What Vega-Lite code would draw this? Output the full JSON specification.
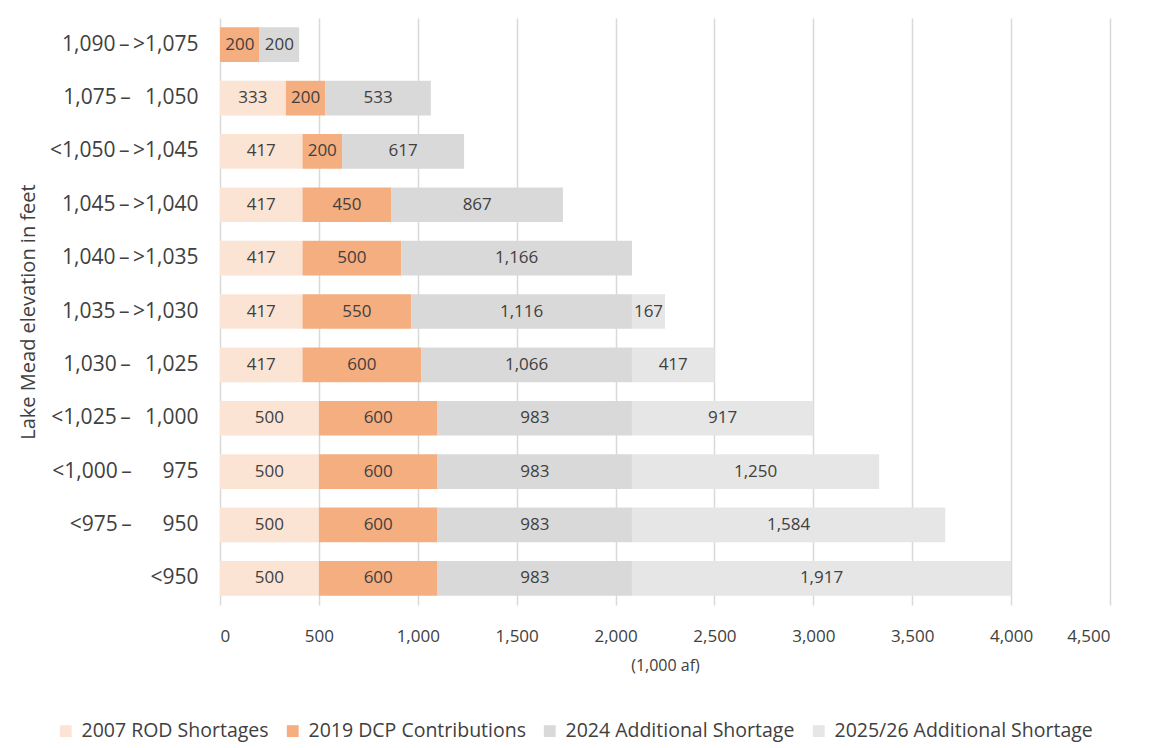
{
  "$schema": "https://vega.github.io/schema/vega-lite/v6.json",
  "width": 890,
  "height": 587,
  "autosize": {"type": "none"},
  "padding": {"left": 220, "top": 18, "right": 41, "bottom": 143},
  "background": "white",
  "config": {
    "font": "Open Sans",
    "view": {"stroke": null},
    "axis": {"labelColor": "#404040", "titleColor": "#404040", "titleFontWeight": "normal", "labelFont": "Open Sans", "titleFont": "Open Sans"},
    "legend": {"labelColor": "#404040", "labelFont": "Open Sans"}
  },
  "data": {
    "values": [
      {"elevation": "1,090\u2009–\u2009>1,075", "series": "2007 ROD Shortages", "value": 0},
      {"elevation": "1,090\u2009–\u2009>1,075", "series": "2019 DCP Contributions", "value": 200},
      {"elevation": "1,090\u2009–\u2009>1,075", "series": "2024 Additional Shortage", "value": 200},
      {"elevation": "1,075\u2009–\u2009\u00a0\u00a01,050", "series": "2007 ROD Shortages", "value": 333},
      {"elevation": "1,075\u2009–\u2009\u00a0\u00a01,050", "series": "2019 DCP Contributions", "value": 200},
      {"elevation": "1,075\u2009–\u2009\u00a0\u00a01,050", "series": "2024 Additional Shortage", "value": 533},
      {"elevation": "<1,050\u2009–\u2009>1,045", "series": "2007 ROD Shortages", "value": 417},
      {"elevation": "<1,050\u2009–\u2009>1,045", "series": "2019 DCP Contributions", "value": 200},
      {"elevation": "<1,050\u2009–\u2009>1,045", "series": "2024 Additional Shortage", "value": 617},
      {"elevation": "1,045\u2009–\u2009>1,040", "series": "2007 ROD Shortages", "value": 417},
      {"elevation": "1,045\u2009–\u2009>1,040", "series": "2019 DCP Contributions", "value": 450},
      {"elevation": "1,045\u2009–\u2009>1,040", "series": "2024 Additional Shortage", "value": 867},
      {"elevation": "1,040\u2009–\u2009>1,035", "series": "2007 ROD Shortages", "value": 417},
      {"elevation": "1,040\u2009–\u2009>1,035", "series": "2019 DCP Contributions", "value": 500},
      {"elevation": "1,040\u2009–\u2009>1,035", "series": "2024 Additional Shortage", "value": 1166},
      {"elevation": "1,035\u2009–\u2009>1,030", "series": "2007 ROD Shortages", "value": 417},
      {"elevation": "1,035\u2009–\u2009>1,030", "series": "2019 DCP Contributions", "value": 550},
      {"elevation": "1,035\u2009–\u2009>1,030", "series": "2024 Additional Shortage", "value": 1116},
      {"elevation": "1,035\u2009–\u2009>1,030", "series": "2025/26 Additional Shortage", "value": 167},
      {"elevation": "1,030\u2009–\u2009\u00a0\u00a01,025", "series": "2007 ROD Shortages", "value": 417},
      {"elevation": "1,030\u2009–\u2009\u00a0\u00a01,025", "series": "2019 DCP Contributions", "value": 600},
      {"elevation": "1,030\u2009–\u2009\u00a0\u00a01,025", "series": "2024 Additional Shortage", "value": 1066},
      {"elevation": "1,030\u2009–\u2009\u00a0\u00a01,025", "series": "2025/26 Additional Shortage", "value": 417},
      {"elevation": "<1,025\u2009–\u2009\u00a0\u00a01,000", "series": "2007 ROD Shortages", "value": 500},
      {"elevation": "<1,025\u2009–\u2009\u00a0\u00a01,000", "series": "2019 DCP Contributions", "value": 600},
      {"elevation": "<1,025\u2009–\u2009\u00a0\u00a01,000", "series": "2024 Additional Shortage", "value": 983},
      {"elevation": "<1,025\u2009–\u2009\u00a0\u00a01,000", "series": "2025/26 Additional Shortage", "value": 917},
      {"elevation": "<1,000\u2009–\u2009\u00a0\u00a0\u00a0\u00a0\u00a0975", "series": "2007 ROD Shortages", "value": 500},
      {"elevation": "<1,000\u2009–\u2009\u00a0\u00a0\u00a0\u00a0\u00a0975", "series": "2019 DCP Contributions", "value": 600},
      {"elevation": "<1,000\u2009–\u2009\u00a0\u00a0\u00a0\u00a0\u00a0975", "series": "2024 Additional Shortage", "value": 983},
      {"elevation": "<1,000\u2009–\u2009\u00a0\u00a0\u00a0\u00a0\u00a0975", "series": "2025/26 Additional Shortage", "value": 1250},
      {"elevation": "<975\u2009–\u2009\u00a0\u00a0\u00a0\u00a0\u00a0950", "series": "2007 ROD Shortages", "value": 500},
      {"elevation": "<975\u2009–\u2009\u00a0\u00a0\u00a0\u00a0\u00a0950", "series": "2019 DCP Contributions", "value": 600},
      {"elevation": "<975\u2009–\u2009\u00a0\u00a0\u00a0\u00a0\u00a0950", "series": "2024 Additional Shortage", "value": 983},
      {"elevation": "<975\u2009–\u2009\u00a0\u00a0\u00a0\u00a0\u00a0950", "series": "2025/26 Additional Shortage", "value": 1584},
      {"elevation": "<950", "series": "2007 ROD Shortages", "value": 500},
      {"elevation": "<950", "series": "2019 DCP Contributions", "value": 600},
      {"elevation": "<950", "series": "2024 Additional Shortage", "value": 983},
      {"elevation": "<950", "series": "2025/26 Additional Shortage", "value": 1917}
    ]
  },
  "transform": [
    {"stack": "value", "groupby": ["elevation"], "sort": [{"field": "series", "order": "ascending"}], "as": ["v0", "v1"]},
    {"calculate": "(datum.v0 + datum.v1) / 2", "as": "mid"}
  ],
  "encoding": {
    "y": {
      "field": "elevation",
      "type": "nominal",
      "sort": null,
      "scale": {"paddingInner": 0.35, "paddingOuter": 0.175},
      "axis": {
        "title": "Lake Mead elevation in feet",
        "titleFontSize": 20,
        "titlePadding": 11,
        "labelFontSize": 21,
        "labelPadding": 22,
        "labelLimit": 300,
        "domain": false,
        "ticks": false,
        "grid": false
      }
    }
  },
  "layer": [
    {
      "mark": {"type": "bar"},
      "encoding": {
        "x": {
          "field": "v0",
          "type": "quantitative",
          "scale": {"domain": [0, 4500], "nice": false},
          "axis": {
            "title": "(1,000 af)",
            "titleFontSize": 16,
            "titlePadding": 13,
            "values": [0, 500, 1000, 1500, 2000, 2500, 3000, 3500, 4000, 4500],
            "format": ",d",
            "labelFontSize": 17,
            "labelPadding": 23,
            "domain": false,
            "ticks": false,
            "grid": true,
            "gridColor": "#d9d9d9",
            "gridWidth": 1.5
          }
        },
        "x2": {"field": "v1"},
        "color": {
          "field": "series",
          "type": "nominal",
          "scale": {
            "domain": ["2007 ROD Shortages", "2019 DCP Contributions", "2024 Additional Shortage", "2025/26 Additional Shortage"],
            "range": ["#fce4d4", "#f4ae80", "#d9d9d9", "#e6e6e6"]
          },
          "legend": {
            "title": null,
            "orient": "none",
            "direction": "horizontal",
            "legendX": -164,
            "legendY": 703,
            "symbolType": "square",
            "symbolSize": 140,
            "symbolStrokeWidth": 0,
            "labelFontSize": 19.5,
            "labelLimit": 0,
            "labelOffset": 6,
            "columnPadding": 14
          }
        }
      }
    },
    {
      "mark": {"type": "text", "fontSize": 17, "color": "#404040", "baseline": "middle", "align": "center"},
      "transform": [{"filter": "datum.value > 0"}],
      "encoding": {
        "x": {"field": "mid", "type": "quantitative"},
        "text": {"field": "value", "type": "quantitative", "format": ",d"}
      }
    }
  ]
}
